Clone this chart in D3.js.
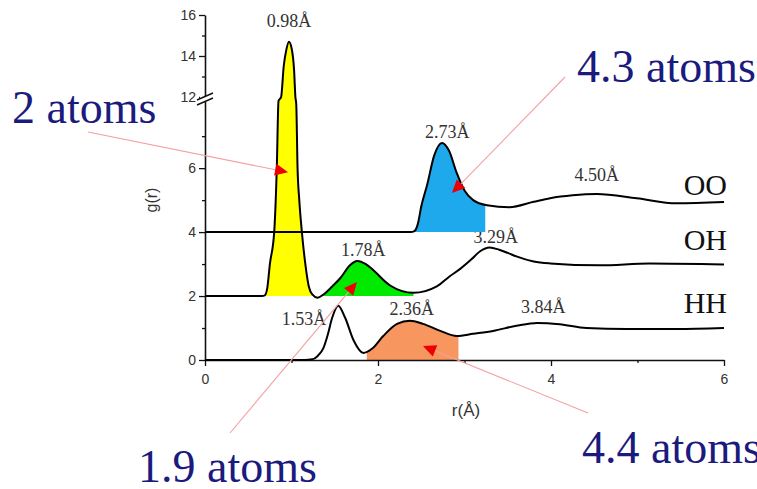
<!doctype html>
<html lang="en">
<head>
<meta charset="utf-8">
<title>g(r) water</title>
<script src="https://cdn.jsdelivr.net/npm/d3@7/dist/d3.min.js"></script>
<style>
  body { margin: 0; background: #fff; }
  text { font-family: "Liberation Serif", "Times New Roman", serif; }
  .tick text, .axlabel { font-family: "Liberation Sans", Arial, sans-serif; }
</style>
</head>
<body>
<svg width="757" height="489" id="svg"></svg>
<script>

// radial distribution data (raw g(r), before stacking)
var ooR = [0, 2.38, 2.42, 2.46, 2.50, 2.57, 2.65, 2.74, 2.82, 2.91, 3.00, 3.10, 3.26, 3.52, 3.80, 3.99, 4.25, 4.53, 4.99, 5.45, 6.0];
var ooG = [0, 0, 0.03, 0.25, 0.8, 1.5, 2.4, 2.79, 2.55, 1.85, 1.3, 1.0, 0.84, 0.78, 0.95, 1.06, 1.15, 1.19, 1.06, 0.9, 0.94];

var ohR = [0, 0.66, 0.69, 0.72, 0.75, 0.80, 0.83, 0.85, 0.88, 0.91, 0.94, 0.97, 1.00, 1.03, 1.045, 1.055, 1.07, 1.09, 1.12, 1.16, 1.20, 1.24, 1.30, 1.37, 1.47, 1.57, 1.67, 1.76, 1.86, 1.95, 2.14, 2.41, 2.68, 2.83, 2.95, 3.08, 3.18, 3.29, 3.40, 3.50, 3.60, 3.80, 3.99, 4.56, 5.14, 6.0];
var ohG = [0, 0, 0.02, 0.25, 1.0, 2.0, 4.0, 6.2, 10, 11.5, 12.3, 12.7, 12.4, 11.3, 10, 6.0, 4.0, 3.0, 2.0, 1.0, 0.3, 0.05, -0.05, 0.05, 0.3, 0.58, 0.95, 1.1, 1.0, 0.8, 0.33, 0.1, 0.3, 0.62, 0.85, 1.15, 1.4, 1.52, 1.45, 1.35, 1.24, 1.08, 1.02, 0.96, 1.02, 0.99];

var hhR = [0, 1.15, 1.24, 1.30, 1.37, 1.42, 1.47, 1.54, 1.62, 1.72, 1.83, 1.93, 2.06, 2.22, 2.37, 2.52, 2.72, 2.91, 3.10, 3.33, 3.60, 3.84, 4.10, 4.41, 4.87, 5.45, 6.0];
var hhG = [0, 0, 0.02, 0.12, 0.38, 0.8, 1.32, 1.70, 1.32, 0.6, 0.22, 0.35, 0.75, 1.13, 1.23, 1.13, 0.91, 0.75, 0.82, 0.91, 1.07, 1.16, 1.12, 1.0, 0.97, 0.97, 1.0];

var names = ['OO', 'OH', 'HH'];
var offsets = [4, 2, 0];
var nameLevels = [5.16, 3.44, 1.47];

// shaded coordination shells [from r, to r]
var shells = [
  {series: 'OH', from: 0.66, to: 1.24, color: '#ffff00'},
  {series: 'OO', from: 2.42, to: 3.24, color: '#1ea9ed'},
  {series: 'OH', from: 1.36, to: 2.41, color: '#00ea00'},
  {series: 'HH', from: 1.87, to: 2.93, color: '#f8965f'}
];

// peak labels: text and where it sits (r, stacked g)
var peakText = ['0.98Å', '2.73Å', '4.50Å', '1.78Å', '3.29Å', '1.53Å', '2.36Å', '3.84Å'];
var peakAt = [[0.971, 15.41], [2.80, 6.94], [4.53, 5.59], [1.83, 3.25], [3.36, 3.66], [1.145, 1.09], [2.39, 1.41], [3.91, 1.47]];

// coordination numbers with the (r, g) point their arrow points at
var atomLabels = ['2 atoms', '4.3 atoms', '1.9 atoms', '4.4 atoms'];
var atomTips = [[0.96, 5.87], [2.855, 5.22], [1.757, 2.44], [2.52, 0.44]];

var xTicks = [0, 2, 4, 6];
var xMinor = [1, 3, 5];
var yTicks = [0, 2, 4, 6, 12, 14, 16];
var yMinor = [1, 3, 5, 7, 13, 15];

var svg = d3.select('#svg');

var x = d3.scaleLinear().domain([0, 6]).range([205, 724]);
// broken axis: 0..8.1 below the break, 12..16 above it
var y = d3.scaleLinear().domain([0, 8.1, 12, 16]).range([360, 101, 97, 15]);

var series = {
  OO: {r: ooR, g: ooG},
  OH: {r: ohR, g: ohG},
  HH: {r: hhR, g: hhG}
};
names.forEach(function(n, i) {
  series[n].off = offsets[i];
  series[n].pts = series[n].r.map(function(r, j) { return [r, series[n].g[j] + offsets[i]]; });
});

var line = d3.line()
  .x(function(d) { return x(d[0]); })
  .y(function(d) { return y(d[1]); })
  .curve(d3.curveMonotoneX);

// peak labels (under the fills, as in the original)
peakText.forEach(function(t, i) {
  svg.append('text')
    .attr('x', x(peakAt[i][0])).attr('y', y(peakAt[i][1]))
    .attr('text-anchor', 'middle').attr('font-size', 18).attr('fill', '#333')
    .text(t);
});

// shaded areas
var defs = svg.append('defs');
shells.forEach(function(s, i) {
  defs.append('clipPath').attr('id', 'clip' + i)
    .append('rect')
    .attr('x', x(s.from)).attr('width', x(s.to) - x(s.from))
    .attr('y', 0).attr('height', 489);
  var ser = series[s.series];
  var area = d3.area()
    .x(function(d) { return x(d[0]); })
    .y0(y(ser.off))
    .y1(function(d) { return y(d[1]); })
    .curve(d3.curveMonotoneX);
  svg.append('path')
    .attr('d', area(ser.pts))
    .attr('fill', s.color)
    .attr('clip-path', 'url(#clip' + i + ')');
});

// axes
var xAxis = svg.append('g').attr('transform', 'translate(0,360)')
  .call(d3.axisBottom(x).tickValues(xTicks).tickSize(6).tickSizeOuter(0).tickFormat(d3.format('d')));
svg.append('g').attr('transform', 'translate(0,360)')
  .call(d3.axisBottom(x).tickValues(xMinor).tickSize(3).tickFormat(''))
  .select('.domain').remove();

var yAxis = svg.append('g').attr('transform', 'translate(205,0)')
  .call(d3.axisLeft(y).tickValues(yTicks).tickSize(6).tickSizeOuter(0).tickFormat(d3.format('d')));
svg.append('g').attr('transform', 'translate(205,0)')
  .call(d3.axisLeft(y).tickValues(yMinor).tickSize(3).tickFormat(''))
  .select('.domain').remove();

svg.selectAll('.domain').attr('stroke', '#111').attr('stroke-width', 1.6);
svg.selectAll('.tick line').attr('stroke', '#111').attr('stroke-width', 1.3);
svg.selectAll('.tick text').attr('font-size', 14).attr('fill', '#333');
xAxis.selectAll('.tick text').attr('dy', '1.05em');

// axis break marks
var yb = (y(12) + y(8.1)) / 2;
svg.append('rect').attr('x', 200).attr('y', yb - 3).attr('width', 10).attr('height', 6).attr('fill', '#fff');
[-2.5, 2.5].forEach(function(dy) {
  svg.append('line')
    .attr('x1', 197).attr('y1', yb + dy + 3.5)
    .attr('x2', 213).attr('y2', yb + dy - 3.5)
    .attr('stroke', '#111').attr('stroke-width', 1.4);
});

svg.append('text').attr('class', 'axlabel')
  .attr('transform', 'translate(157,200) rotate(-90)')
  .attr('text-anchor', 'middle').attr('font-size', 16).attr('fill', '#333')
  .text('g(r)');
svg.append('text').attr('class', 'axlabel')
  .attr('x', 466).attr('y', 416)
  .attr('text-anchor', 'middle').attr('font-size', 17).attr('fill', '#333')
  .text('r(Å)');

// curves
names.forEach(function(n) {
  svg.append('path')
    .attr('d', line(series[n].pts))
    .attr('fill', 'none')
    .attr('stroke', '#000')
    .attr('stroke-width', 2);
});

// series names on the right
names.forEach(function(n, i) {
  svg.append('text')
    .attr('x', 727).attr('y', y(nameLevels[i]))
    .attr('text-anchor', 'end').attr('font-size', 30).attr('fill', '#111')
    .text(n);
});

// coordination number labels and arrows
var labelPos = [[12, 123, 88, 132], [577, 82, 565, 77], [138, 482, 230, 433], [582, 463, 588, 413]];
atomLabels.forEach(function(t, i) {
  var lp = labelPos[i];
  var tx = x(atomTips[i][0]), ty = y(atomTips[i][1]);
  var ang = Math.atan2(ty - lp[3], tx - lp[2]);
  svg.append('line')
    .attr('x1', lp[2]).attr('y1', lp[3])
    .attr('x2', tx - 10 * Math.cos(ang)).attr('y2', ty - 10 * Math.sin(ang))
    .attr('stroke', '#f3a0a0').attr('stroke-width', 1.1);
  var len = 13, hw = 6;
  var bx = tx - len * Math.cos(ang), by = ty - len * Math.sin(ang);
  var px = -Math.sin(ang) * hw, py = Math.cos(ang) * hw;
  svg.append('path')
    .attr('d', 'M' + tx + ',' + ty + 'L' + (bx + px) + ',' + (by + py) + 'L' + (bx - px) + ',' + (by - py) + 'Z')
    .attr('fill', '#ee0000');
  svg.append('text')
    .attr('x', lp[0]).attr('y', lp[1])
    .attr('font-size', 46).attr('fill', '#1b1b7e')
    .text(t);
});

</script>
</body>
</html>
